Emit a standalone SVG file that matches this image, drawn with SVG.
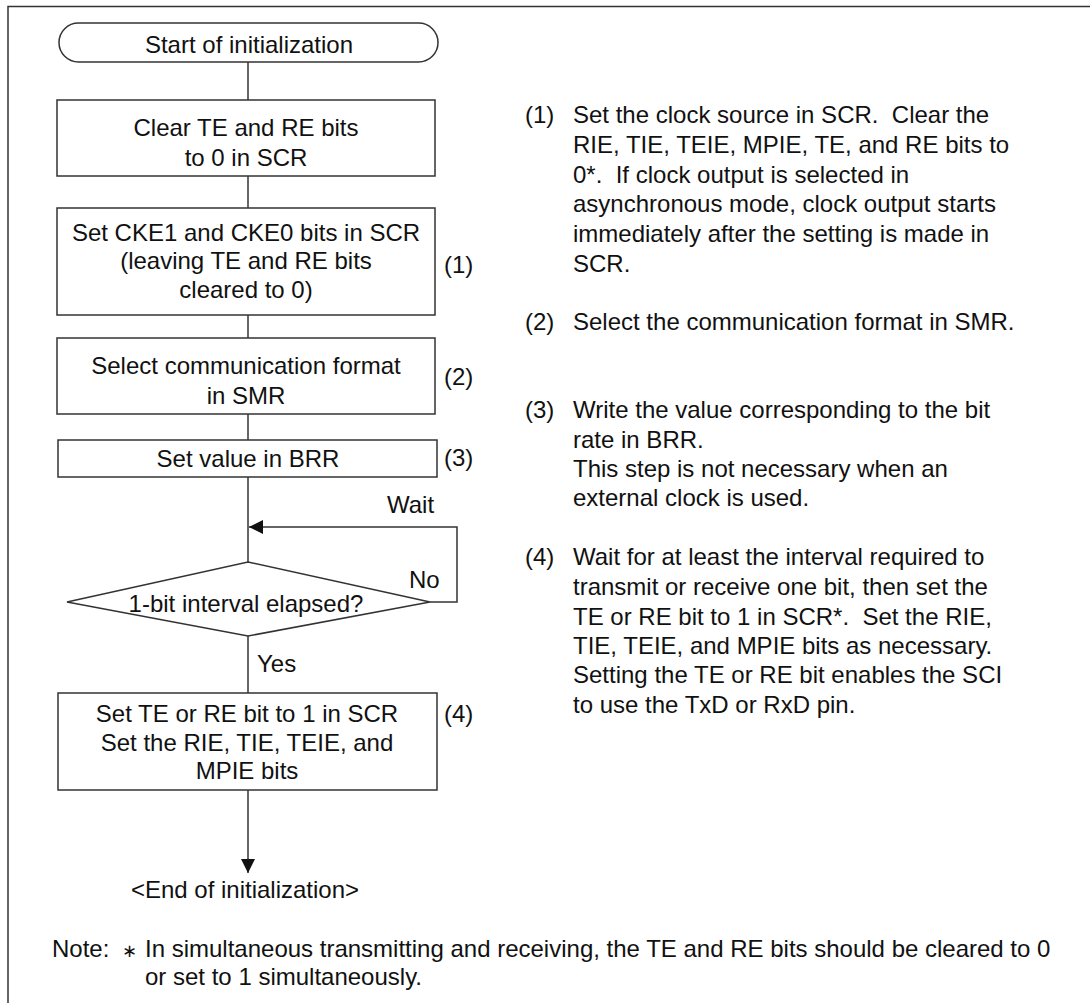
<svg xmlns="http://www.w3.org/2000/svg" width="1090" height="1003" viewBox="0 0 1090 1003">
<style>
  text { font-family: "Liberation Sans", Arial, sans-serif; font-size: 24px; fill: #111; }
  .c { text-anchor: middle; }
  .shape { fill: #fff; stroke: #333; stroke-width: 1.5; }
  .line { fill: none; stroke: #333; stroke-width: 1.5; }
  .pre { white-space: pre; }
</style>
<defs>
  <marker id="ah" viewBox="0 0 10 10" refX="10" refY="5" markerWidth="18" markerHeight="14" markerUnits="userSpaceOnUse" orient="auto">
    <path d="M0,0 L10,5 L0,10 Z" fill="#111"/>
  </marker>
</defs>
<rect width="1090" height="1003" fill="#fff"/>
<path class="line" d="M8,1003 V6.5 H1090" stroke="#444"/>

<g id="connectors">
  <path class="line" d="M248,62 V100"/>
  <path class="line" d="M248,176 V208"/>
  <path class="line" d="M248,315 V338"/>
  <path class="line" d="M248,414 V440"/>
  <path class="line" d="M248,477 V562"/>
  <path class="line" d="M430,602 H457 V527 H249" marker-end="url(#ah)"/>
  <path class="line" d="M248,636 V693"/>
  <path class="line" d="M248,790 V873" marker-end="url(#ah)"/>
  <text x="387" y="513">Wait</text>
  <text x="409" y="588">No</text>
  <text x="257" y="672">Yes</text>
</g>

<g id="start">
  <rect class="shape" x="59" y="23" width="379" height="39" rx="19.5"/>
  <text class="c" x="249" y="53">Start of initialization</text>
</g>

<g id="clear">
  <rect class="shape" x="57" y="100" width="378" height="76"/>
  <text class="c" x="246" y="136">Clear TE and RE bits</text>
  <text class="c" x="246" y="166">to 0 in SCR</text>
</g>

<g id="setcke">
  <rect class="shape" x="57" y="208" width="378" height="107"/>
  <text class="c" x="246" y="241">Set CKE1 and CKE0 bits in SCR</text>
  <text class="c" x="246" y="269">(leaving TE and RE bits</text>
  <text class="c" x="246" y="298">cleared to 0)</text>
  <text x="444" y="273">(1)</text>
</g>

<g id="smr">
  <rect class="shape" x="57" y="338" width="378" height="76"/>
  <text class="c" x="246" y="374">Select communication format</text>
  <text class="c" x="246" y="404">in SMR</text>
  <text x="444" y="385">(2)</text>
</g>

<g id="brr">
  <rect class="shape" x="58" y="440" width="379" height="37"/>
  <text class="c" x="248" y="467">Set value in BRR</text>
  <text x="444" y="466">(3)</text>
</g>

<g id="decision">
  <polygon class="shape" points="248,562 430,602 248,636 67,602"/>
  <text class="c" x="246" y="612">1-bit interval elapsed?</text>
</g>

<g id="setbits">
  <rect class="shape" x="58" y="693" width="379" height="97"/>
  <text class="c" x="247" y="722">Set TE or RE bit to 1 in SCR</text>
  <text class="c" x="247" y="751">Set the RIE, TIE, TEIE, and</text>
  <text class="c" x="247" y="779">MPIE bits</text>
  <text x="444" y="722">(4)</text>
</g>

<g id="end">
  <text class="c" x="245" y="898">&lt;End of initialization&gt;</text>
</g>

<g id="notes">
  <text x="525" y="123">(1)</text>
  <text class="pre" x="573" y="123">Set the clock source in SCR.  Clear the</text>
  <text class="pre" x="573" y="153">RIE, TIE, TEIE, MPIE, TE, and RE bits to</text>
  <text class="pre" x="573" y="183">0*.  If clock output is selected in</text>
  <text class="pre" x="573" y="212">asynchronous mode, clock output starts</text>
  <text class="pre" x="573" y="242">immediately after the setting is made in</text>
  <text class="pre" x="573" y="272">SCR.</text>

  <text x="525" y="330">(2)</text>
  <text class="pre" x="573" y="330">Select the communication format in SMR.</text>

  <text x="525" y="418">(3)</text>
  <text class="pre" x="573" y="418">Write the value corresponding to the bit</text>
  <text class="pre" x="573" y="448">rate in BRR.</text>
  <text class="pre" x="573" y="477">This step is not necessary when an</text>
  <text class="pre" x="573" y="506">external clock is used.</text>

  <text x="525" y="565">(4)</text>
  <text class="pre" x="573" y="565">Wait for at least the interval required to</text>
  <text class="pre" x="573" y="595">transmit or receive one bit, then set the</text>
  <text class="pre" x="573" y="625">TE or RE bit to 1 in SCR*.  Set the RIE,</text>
  <text class="pre" x="573" y="654">TIE, TEIE, and MPIE bits as necessary.</text>
  <text class="pre" x="573" y="683">Setting the TE or RE bit enables the SCI</text>
  <text class="pre" x="573" y="713">to use the TxD or RxD pin.</text>
</g>

<g id="footnote">
  <text x="52" y="957">Note:</text>
  <text x="122" y="957" style="font-family: 'DejaVu Sans', sans-serif; font-size: 18px;">∗</text>
  <text class="pre" x="145" y="957">In simultaneous transmitting and receiving, the TE and RE bits should be cleared to 0</text>
  <text class="pre" x="145" y="985">or set to 1 simultaneously.</text>
</g>
</svg>
